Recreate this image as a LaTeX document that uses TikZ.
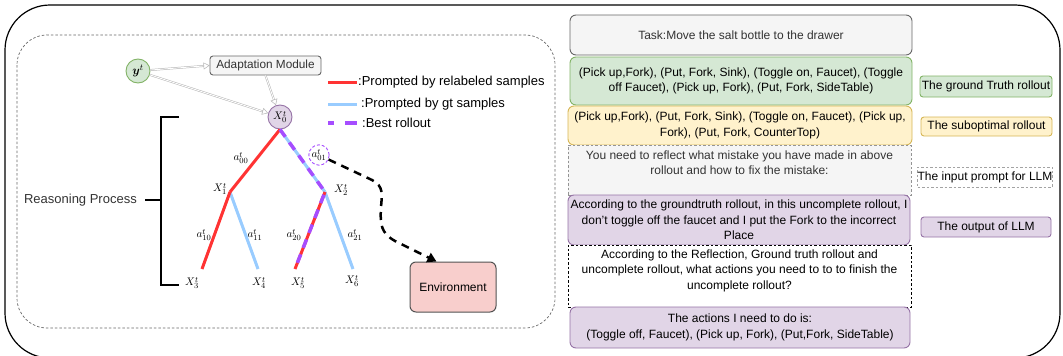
\documentclass[tikz,border=0pt]{standalone}
\usepackage{amsmath}
\usepackage{fontspec}
\setmainfont{Liberation Sans}
\usetikzlibrary{arrows.meta}
\definecolor{cred}{HTML}{FF3333}
\definecolor{cblue}{HTML}{99CCFF}
\definecolor{cpur}{HTML}{A64DFF}
\definecolor{gfill}{HTML}{D5E8D4}
\definecolor{gline}{HTML}{82B366}
\definecolor{yfill}{HTML}{FFF2CC}
\definecolor{yline}{HTML}{D6B656}
\definecolor{pfill}{HTML}{E1D5E7}
\definecolor{pline}{HTML}{9673A6}
\definecolor{sfill}{HTML}{F5F5F5}
\definecolor{sline}{HTML}{666666}
\definecolor{rfill}{HTML}{F8CECC}
\definecolor{txtgray}{HTML}{333333}
\definecolor{arrgray}{HTML}{B3B3B3}
\newcommand{\fA}{\fontsize{12}{15.5}\selectfont}
\newcommand{\fL}{\fontsize{13}{15}\selectfont}
\newcommand{\fM}{\fontsize{11}{13}\selectfont}
\tikzset{
  rbox/.style={draw, rounded corners=6pt, line width=0.9pt, align=center, font=\fA, inner sep=0pt},
  lbox/.style={draw, rounded corners=3pt, line width=0.9pt, align=center, font=\fA, inner sep=0pt, minimum height=20pt},
  mlab/.style={font=\fM, inner sep=0.5pt},
  redl/.style={draw=cred, line width=3pt},
  bluel/.style={draw=cblue, line width=3pt},
  purl/.style={draw=cpur, line width=3.5pt, dash pattern=on 9pt off 7pt},
  grayarr/.style={draw=arrgray, line width=0.5pt, double=white, double distance=0.9pt, -{Triangle[open, length=6pt, width=7pt]}},
  envarr/.style={draw=black, line width=2.5pt, dash pattern=on 8pt off 6pt, -{Triangle[length=9pt, width=10pt]}},
}
\begin{document}
\begin{tikzpicture}[x=1pt, y=-1pt]
\useasboundingbox (0,0) rectangle (1063,356);
% frames
\draw[line width=1.2pt, rounded corners=45pt] (5,5) rectangle (1060,358);
\draw[draw=sline, line width=0.7pt, dash pattern=on 2.5pt off 2pt, rounded corners=30pt] (17,35) rectangle (555,328);

% top nodes
\node[circle, draw=gline, fill=gfill, line width=0.9pt, minimum size=24pt, inner sep=0pt, font=\fontsize{12.5}{14}\selectfont] (yt) at (138,71) {$\boldsymbol{y}^{t}$};
\node[draw=sline, fill=sfill, rounded corners=3pt, line width=0.9pt, minimum width=111pt, minimum height=19pt, inner sep=0pt, text=txtgray, font=\fontsize{11.8}{14}\selectfont] (am) at (265.5,65.5) {Adaptation Module};
\node[circle, draw=pline, fill=pfill, line width=0.9pt, minimum size=24pt, inner sep=0pt] (X0) at (280,117) {\fM$X_0^t$};

\draw[grayarr] (yt) -- (am.west);
\draw[grayarr] (am.south) -- (X0);
\draw[grayarr] (yt) -- (X0);

% legend
\draw[redl] (328,82) -- (357,82);
\draw[bluel] (328,104) -- (357,104);
\draw[draw=cpur, line width=4pt, dash pattern=on 12pt off 11pt, dash phase=6pt] (328,123) -- (357,123);
\node[anchor=west, font=\fL, inner sep=0pt] (lg1) at (358,82) {:Prompted by relabeled samples};
\node[anchor=west, font=\fL, inner sep=0pt] (lg2) at (361,104) {:Prompted by gt samples};
\node[anchor=west, font=\fL, inner sep=0pt] (lg3) at (362,123) {:Best rollout};

% tree
\coordinate (n1) at (230,192);
\coordinate (n2) at (325,192);
\coordinate (l3) at (202,269);
\coordinate (l4) at (258,269);
\coordinate (l5) at (295,269);
\coordinate (l6) at (353,269);
\draw[bluel] (X0.south) -- (n2);
\draw[bluel] (n1) -- (l4);
\draw[bluel] (n2) -- (l6);
\draw[redl] (X0.south) -- (n1);
\draw[redl] (n1) -- (l3);
\draw[redl] (n2) -- (l5);
\draw[purl] (X0.south) -- (n2) -- (l5);

\node[mlab] (X1) at (220,189) {$X_1^t$};
\node[mlab] (X2) at (341,190) {$X_2^t$};
\node[mlab] (X3) at (192,283) {$X_3^t$};
\node[mlab] (X4) at (259,283) {$X_4^t$};
\node[mlab] (X5) at (298,283) {$X_5^t$};
\node[mlab] (X6) at (352,281) {$X_6^t$};
\node[mlab] (a00) at (241,158) {$a_{00}^t$};
\node[mlab, circle, draw=cpur, line width=0.9pt, dash pattern=on 3pt off 2pt, minimum size=19pt] (a01) at (319,155) {$a_{01}^t$};
\node[mlab] (a10) at (204,235) {$a_{10}^t$};
\node[mlab] (a11) at (255,235) {$a_{11}^t$};
\node[mlab] (a20) at (294,235) {$a_{20}^t$};
\node[mlab] (a21) at (355,235) {$a_{21}^t$};

% environment
\node[draw=sline!80!black, fill=rfill, rounded corners=6pt, line width=1pt, minimum width=86pt, minimum height=50pt, inner sep=0pt, font=\fA] (env) at (453,287) {Environment};
\draw[envarr] (a01) -- (372,180) .. controls (384,186) and (382,195) .. (381,207) .. controls (380,225) and (381,233) .. (395,241) -- ([xshift=27pt]env.north west);

% bracket
\node[anchor=east, font=\fL, inner sep=0pt, text=txtgray] (rp) at (137,200) {Reasoning Process};
\coordinate (bt) at (179,117);
\coordinate (bb) at (179,285);
\coordinate (bm) at (161,200);
\draw[line width=1.5pt] (bt) -- (161,117) -- (161,285) -- (bb);
\draw[line width=1.5pt] ([xshift=8pt]rp.east) -- (bm);

% right panel
\node[rbox, draw=sline, fill=sfill, text=txtgray, minimum width=342pt, minimum height=40pt] (task) at (741,35) {Task:Move the salt bottle to the drawer};
\node[rbox, draw=gline, fill=gfill, minimum width=342pt, minimum height=48pt] (gt) at (741,81) {(Pick up,Fork), (Put, Fork, Sink), (Toggle on, Faucet), (Toggle\\off Faucet), (Pick up, Fork), (Put, Fork, SideTable)};
\node[rbox, draw=yline, fill=yfill, minimum width=344pt, minimum height=39pt] (sub) at (740,125.5) {(Pick up,Fork), (Put, Fork, Sink), (Toggle on, Faucet), (Pick up,\\Fork), (Put, Fork, CounterTop)};
\node[rbox, draw=sline!70, fill=sfill, text=txtgray, rounded corners=0pt, line width=0.7pt, dash pattern=on 2.5pt off 2pt, minimum width=343pt, minimum height=50pt] (inp) at (739.5,170) {You need to reflect what mistake you have made in above\\rollout and how to fix the mistake:\\[-1pt]};
\node[rbox, draw=pline, fill=pfill, minimum width=342pt, minimum height=50pt] (out1) at (739,220) {According to the groundtruth rollout, in this uncomplete rollout, I\\don't toggle off the faucet and I put the Fork to the incorrect\\Place};
\node[rbox, draw=black, fill=white, rounded corners=0pt, line width=0.7pt, dash pattern=on 2.5pt off 2pt, minimum width=343pt, minimum height=62pt] (q2) at (739.5,276) {According to the Reflection, Ground truth rollout and\\uncomplete rollout, what actions you need to to to finish the\\uncomplete rollout?\\[-2pt]};
\node[rbox, draw=pline, fill=pfill, minimum width=340pt, minimum height=41pt] (out2) at (740,327.5) {The actions I need to do is:\\(Toggle off, Faucet), (Pick up, Fork), (Put,Fork, SideTable)};

% right labels
\node[lbox, draw=gline, fill=gfill, minimum width=132pt, minimum height=21pt] (lgt) at (986,86.5) {The ground Truth rollout};
\node[lbox, draw=yline, fill=yfill, minimum width=131pt, minimum height=19pt] (lsub) at (986.5,126.5) {The suboptimal rollout};
\node[lbox, draw=sline!60, fill=white, rounded corners=0pt, line width=0.7pt, dash pattern=on 2.5pt off 2pt, minimum width=134pt] (linp) at (985,177) {The input prompt for LLM};
\node[lbox, draw=pline, fill=pfill, minimum width=130pt] (lout) at (986,227) {The output of LLM};
\end{tikzpicture}
\end{document}
